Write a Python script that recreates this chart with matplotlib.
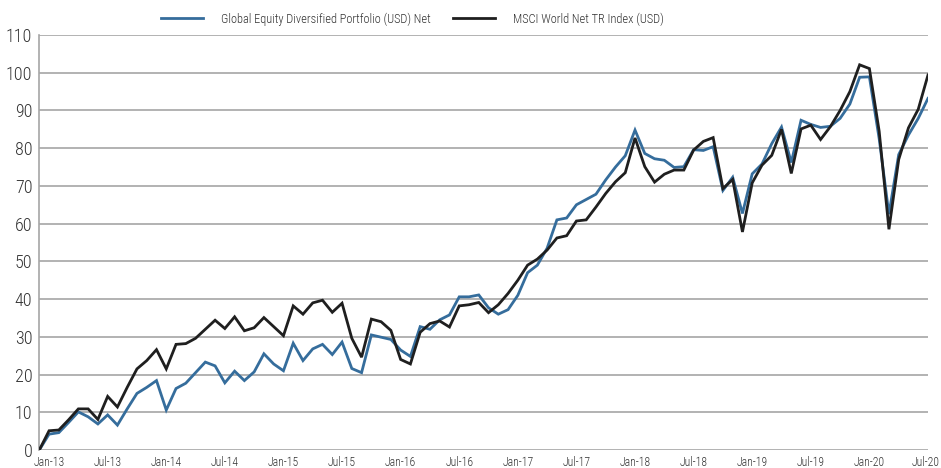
import matplotlib
matplotlib.use("Agg")
import matplotlib.pyplot as plt
import matplotlib.transforms as mtrans
from matplotlib import font_manager
from matplotlib.font_manager import FontProperties
from matplotlib.textpath import TextPath

# pick a narrow sans (light if possible), else Roboto
prefs = ["robotocondensed-light.", "robotocondensed-regular", "liberationsansnarrow-regular",
         "opensans_condensed-light", "opensans_condensed-regular",
         "opensanscondensed-regular", "dejavusanscondensed.ttf"]
files = [f.fname for f in font_manager.fontManager.ttflist]
cond = None
for p in prefs:
    for fn in files:
        if p in fn.lower().replace(" ", ""):
            cond = fn
            break
    if cond:
        break
names = {f.name for f in font_manager.fontManager.ttflist}
fallback = [f for f in ["Roboto", "DejaVu Sans"] if f in names]
plt.rcParams['font.family'] = fallback


def fp(size):
    if cond:
        return FontProperties(fname=cond, size=size)
    return FontProperties(family=fallback, size=size)


def size_for(text, target_px, lo=6, hi=13):
    w = TextPath((0, 0), text, prop=fp(10)).get_extents().width * 100 / 72
    s = 10 * target_px / w
    return max(lo, min(hi, s))


# Monthly series, Dec-12 (base 0) to Jul-20
portfolio = [0, 4.2, 4.6, 7.3, 10.1, 8.8, 6.9, 9.3, 6.6, 10.9, 15.0, 16.6, 18.4, 10.6,
             16.3, 17.7, 20.5, 23.3, 22.3, 17.8, 20.9, 18.4, 20.7, 25.5, 22.8, 21.0,
             28.3, 23.7, 26.8, 28.0, 25.3, 28.6, 21.6, 20.5, 30.5, 29.9, 29.3, 26.5,
             24.8, 32.7, 32.0, 34.5, 35.8, 40.6, 40.6, 41.1, 37.7, 36.0, 37.2, 41.0,
             47.0, 49.0, 53.5, 61.0, 61.5, 65.0, 66.4, 67.8, 71.6, 75.0, 78.0, 84.8,
             78.6, 77.2, 76.8, 74.9, 75.1, 79.6, 79.4, 80.4, 68.8, 72.3, 62.7, 73.2,
             75.8, 81.2, 85.6, 76.2, 87.4, 86.3, 85.5, 85.8, 87.9, 91.7, 98.8, 98.9,
             82.5, 62.5, 78.3, 83.5, 87.9, 93.2]
index = [0, 5.1, 5.3, 8.0, 10.9, 10.9, 8.1, 14.2, 11.4, 16.6, 21.5, 23.7, 26.6, 21.5,
         28.0, 28.2, 29.6, 32.0, 34.4, 32.2, 35.3, 31.6, 32.4, 35.1, 32.7, 30.3,
         38.2, 36.0, 39.0, 39.7, 36.5, 38.9, 29.6, 24.6, 34.7, 34.0, 31.7, 24.0,
         22.8, 31.2, 33.5, 34.2, 32.6, 38.2, 38.5, 39.1, 36.4, 38.5, 41.5, 45.0,
         49.0, 50.6, 53.0, 56.2, 56.8, 60.7, 61.0, 64.4, 68.0, 71.1, 73.5, 82.7,
         75.1, 71.0, 73.1, 74.2, 74.2, 79.5, 81.8, 82.8, 69.3, 71.7, 57.8, 70.8,
         75.5, 78.1, 85.0, 73.3, 85.1, 86.1, 82.3, 85.7, 90.0, 95.0, 102.1, 101.1,
         84.5, 58.5, 77.0, 85.4, 90.3, 99.4]
tick_labels = ["Jan-13", "Jul-13", "Jan-14", "Jul-14", "Jan-15", "Jul-15", "Jan-16",
               "Jul-16", "Jan-17", "Jul-17", "Jan-18", "Jul-18", "Jan-19", "Jul-19",
               "Jan-20", "Jul-20"]
series_names = ["Global Equity Diversified Portfolio (USD) Net", "MSCI World Net TR Index (USD)"]

x = list(range(len(portfolio)))
tick_pos = [1 + 6 * k for k in range(len(tick_labels))]

fig = plt.figure(figsize=(9.41, 4.68), dpi=100)
ax = fig.add_axes([39.3 / 941, 1 - 450 / 468, (928 - 39.3) / 941, (450 - 35) / 468])

blue = "#356d9c"
black = "#1f1f1f"
l1, = ax.plot(x, portfolio, color=blue, lw=2.0, zorder=3, solid_joinstyle='miter')
l2, = ax.plot(x, index, color=black, lw=2.0, zorder=4, solid_joinstyle='miter')

ax.set_xlim(0, len(x) - 1)
ax.set_ylim(0, 110)
ax.set_yticks(range(0, 111, 10))
ax.set_xticks(tick_pos)
ax.set_xticklabels(tick_labels)
ax.grid(axis='y', color="#a6a6a6", lw=1.2)
ax.set_axisbelow(True)
for s in ["top", "right", "bottom"]:
    ax.spines[s].set_visible(False)
ax.spines["left"].set_color("#a6a6a6")
ax.spines["left"].set_linewidth(1.2)
ax.tick_params(axis='y', length=0, pad=5, labelcolor="#333333")
ax.tick_params(axis='x', length=0, pad=4, labelcolor="#333333")

ysz = size_for("100", 25)
xsz = size_for("Jan-13", 30)
lsz = size_for(series_names[0], 210)
for t in ax.get_yticklabels():
    t.set_fontproperties(fp(ysz))
xl = ax.get_xticklabels()
for t in xl:
    t.set_fontproperties(fp(xsz))
# keep the last label inside the canvas
xl[-1].set_horizontalalignment("right")
xl[-1].set_transform(xl[-1].get_transform() + mtrans.ScaledTranslation(12 / 100, 0, fig.dpi_scale_trans))

leg1 = fig.legend([l1], [series_names[0]], loc="center left",
                  bbox_to_anchor=(161 / 941, 1 - 19 / 468), frameon=False, prop=fp(lsz),
                  handlelength=3.4, handletextpad=1.4, borderpad=0, borderaxespad=0)
leg2 = fig.legend([l2], [series_names[1]], loc="center left",
                  bbox_to_anchor=(453 / 941, 1 - 19 / 468), frameon=False, prop=fp(lsz),
                  handlelength=3.4, handletextpad=1.4, borderpad=0, borderaxespad=0)
for leg in (leg1, leg2):
    for t in leg.get_texts():
        t.set_color("#333333")

fig.savefig("out.png", dpi=100)
